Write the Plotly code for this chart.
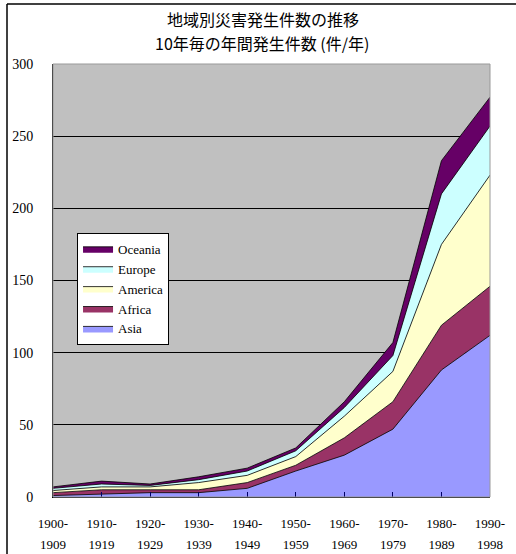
import plotly.graph_objects as go

decade_start = ["1900-", "1910-", "1920-", "1930-", "1940-", "1950-", "1960-", "1970-", "1980-", "1990-"]
decade_end = ["1909", "1919", "1929", "1939", "1949", "1959", "1969", "1979", "1989", "1998"]
asia = [1, 2, 3, 3, 6, 18, 29, 47, 88, 112]
africa = [2, 3, 2, 2, 4, 4, 12, 19, 31, 34]
america = [1.5, 2, 2, 5, 5, 6, 15, 21, 56, 77]
europe = [1.5, 2, 1, 2, 3, 4, 6, 11, 35, 34]
oceania = [1, 2, 1, 2, 2, 2, 4, 9, 23, 20]

series = [
    ("Asia", asia, "#9999FF"),
    ("Africa", africa, "#993366"),
    ("America", america, "#FFFFCC"),
    ("Europe", europe, "#CCFFFF"),
    ("Oceania", oceania, "#660066"),
]

title_lines = ["地域別災害発生件数の推移", "10年毎の年間発生件数 (件/年)"]

x = list(range(len(decade_start)))
fig = go.Figure()
for name, vals, col in series:
    fig.add_trace(go.Scatter(
        x=x, y=vals, name=name, mode="lines", stackgroup="one",
        line=dict(color="#000000", width=0.8), fillcolor=col,
    ))
# invisible helper trace so the second row of category labels (xaxis2) is drawn
fig.add_trace(go.Scatter(x=x, y=asia, xaxis="x2", mode="lines", line=dict(width=0),
                         opacity=0, showlegend=False, hoverinfo="skip"))

serif = "Liberation Serif"
PW, PH = 437, 433  # plot area size in px
fig.update_layout(
    width=516, height=554,
    margin=dict(l=53, r=26, t=64, b=57, autoexpand=False),
    paper_bgcolor="white", plot_bgcolor="#C0C0C0",
    showlegend=True,
    legend=dict(x=0.055, y=0.61, xanchor="left", yanchor="top", traceorder="reversed",
                bgcolor="white", bordercolor="black", borderwidth=1,
                font=dict(family=serif, size=13, color="black"),
                tracegroupgap=0, itemwidth=30),
    xaxis=dict(range=[0, 9], tickmode="array", tickvals=x, ticktext=decade_start,
               showgrid=False, zeroline=False, showline=True, linecolor="black", linewidth=1,
               ticks="inside", ticklen=5, tickcolor="#000066", ticklabelstandoff=14,
               automargin=False,
               tickfont=dict(family=serif, size=13, color="black")),
    xaxis2=dict(range=[0, 9], tickmode="array", tickvals=x, ticktext=decade_end,
                overlaying="x", side="bottom", showgrid=False, zeroline=False,
                showline=False, ticks="", ticklabelstandoff=38, automargin=False,
                tickfont=dict(family=serif, size=13, color="black")),
    yaxis=dict(range=[0, 300], tickvals=[0, 50, 100, 150, 200, 250, 300],
               showgrid=True, gridcolor="#000000", gridwidth=1, zeroline=False,
               showline=True, linecolor="black", linewidth=1,
               ticklabelstandoff=16, automargin=False,
               tickfont=dict(family=serif, size=14, color="black")),
    annotations=[
        dict(text=title_lines[0], xref="paper", yref="paper",
             x=(263 - 53) / PW, y=(497 - 19) / PH, xanchor="center", yanchor="middle",
             showarrow=False, font=dict(family="Noto Sans CJK JP", size=16, color="black")),
        dict(text=title_lines[1], xref="paper", yref="paper",
             x=(262 - 53) / PW, y=(497 - 43) / PH, xanchor="center", yanchor="middle",
             showarrow=False, font=dict(family="Noto Sans CJK JP", size=16, color="black")),
    ],
    shapes=[
        dict(type="line", xref="paper", yref="paper", x0=-46 / PW, x1=-46 / PW,
             y0=-57 / PH, y1=(497 - 4) / PH, line=dict(color="black", width=1.5)),
        dict(type="line", xref="paper", yref="paper", x0=-46 / PW, x1=(516 - 53) / PW,
             y0=(497 - 4) / PH, y1=(497 - 4) / PH, line=dict(color="black", width=1.5)),
        dict(type="rect", xref="paper", yref="paper", x0=0, x1=1, y0=0, y1=1,
             line=dict(color="#999999", width=1), layer="above"),
    ],
)
fig.write_html("out.html", config={"displayModeBar": False},
               post_script="document.body.style.margin='0';document.body.style.overflow='hidden';")
